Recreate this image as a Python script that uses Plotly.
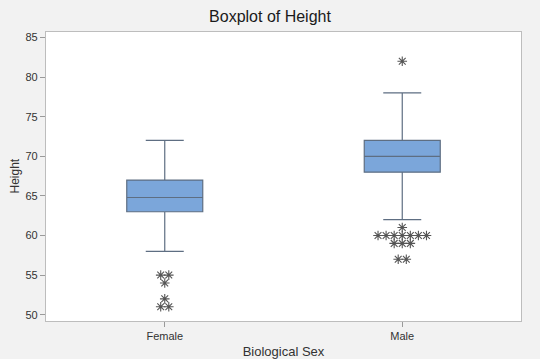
import plotly.graph_objects as go
from collections import Counter

categories = ["Female", "Male"]
q1 = [63, 68]
median = [64.8, 70]
q3 = [67, 72]
lower_whisker = [58, 62]
upper_whisker = [72, 78]
outliers = [
    [55, 55, 54, 52, 51, 51],
    [82, 61, 60, 60, 60, 60, 60, 60, 60, 59, 59, 59, 57, 57],
]
yticks = [50, 55, 60, 65, 70, 75, 80, 85]

fig = go.Figure()
fig.add_trace(go.Box(
    x=list(range(len(categories))),
    q1=q1, median=median, q3=q3,
    lowerfence=lower_whisker, upperfence=upper_whisker,
    width=0.32,
    fillcolor="#7BA6DA",
    line=dict(color="#5E6E82", width=1.2),
    boxpoints=False,
    showlegend=False,
))

step = 0.034
ox, oy = [], []
for i, vals in enumerate(outliers):
    counts = Counter(vals)
    for v, n in counts.items():
        for k in range(n):
            ox.append(i + (k - (n - 1) / 2) * step)
            oy.append(v)
fig.add_trace(go.Scatter(
    x=ox, y=oy, mode="markers",
    marker=dict(symbol="asterisk-open", size=8, color="#555555",
                line=dict(color="#555555", width=1.1)),
    showlegend=False,
))

font = "Liberation Sans, Arial"
axis_common = dict(showgrid=False, zeroline=False, showline=True, mirror=True,
                   linecolor="#BDBDBD", linewidth=1.2, ticks="outside",
                   ticklen=5, tickcolor="#9A9A9A", automargin=False,
                   tickfont=dict(family=font, size=11, color="#333333"))
fig.update_layout(
    width=540, height=359,
    margin=dict(l=46, r=19, t=32, b=38),
    paper_bgcolor="#F2F2F2", plot_bgcolor="#FFFFFF",
    title=dict(text="Boxplot of Height", x=0.5, xanchor="center", y=0.953, yanchor="middle",
               font=dict(family=font, size=16, color="#1A1A1A")),
    xaxis=dict(range=[-0.5, 1.5], tickvals=list(range(len(categories))), ticktext=categories,
               title=dict(text="Biological Sex",
                          font=dict(family=font, size=13, color="#333333")),
               **axis_common),
    yaxis=dict(range=[49.2, 85.7], tickvals=yticks, **axis_common),
    annotations=[dict(text="Height", xref="paper", yref="paper", x=0, y=0.5,
                      xanchor="center", yanchor="middle", xshift=-32, textangle=-90,
                      showarrow=False, font=dict(family=font, size=12, color="#333333"))],
)
fig.write_html("out.html", config={"displayModeBar": False},
               post_script="document.body.style.margin='0';document.body.style.overflow='hidden';")
